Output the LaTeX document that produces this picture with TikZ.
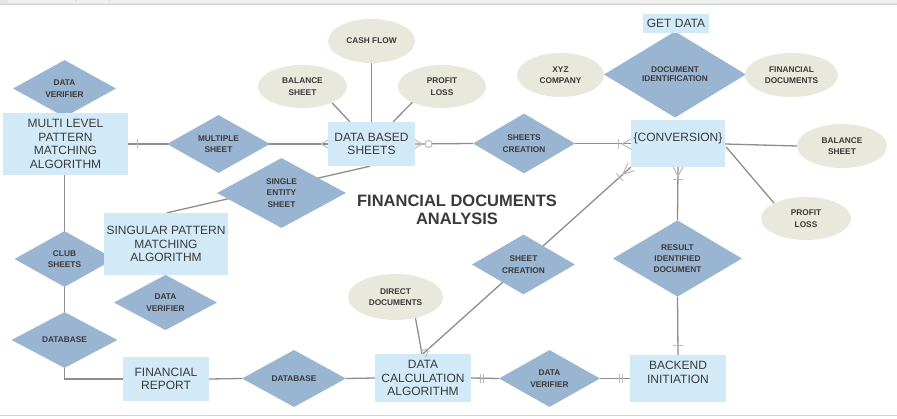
\documentclass[tikz,border=0pt]{standalone}
\usepackage{fontspec}
\setmainfont{Liberation Sans}
\usetikzlibrary{shapes.geometric,calc,backgrounds}
\definecolor{rectc}{HTML}{D2E9F7}
\definecolor{diac}{HTML}{9AB5D1}
\definecolor{ellc}{HTML}{E8E8DC}
\definecolor{linec}{HTML}{8E8E8E}
\definecolor{markc}{HTML}{BABABA}
\definecolor{txt}{HTML}{3A3A3A}
\definecolor{chrome}{HTML}{E6E6E6}
\definecolor{tabc}{HTML}{F0F0F0}
\definecolor{edgec}{HTML}{D2D2D2}
\tikzset{
  smalltxt/.style={font=\fontsize{8.3}{11.3}\selectfont\bfseries, text=txt, align=center},
  bigtxt/.style={font=\fontsize{12}{13.7}\selectfont, text=txt, align=center},
  box/.style 2 args={rectangle, fill=rectc, draw=none, minimum width=#1, minimum height=#2, inner sep=0pt, bigtxt},
  dia/.style 2 args={diamond, fill=diac, draw=none, minimum width=#1, minimum height=#2, inner sep=0pt, smalltxt},
  ell/.style 2 args={ellipse, fill=ellc, draw=none, minimum width=#1, minimum height=#2, inner sep=0pt, smalltxt},
  conn/.style={draw=linec, line width=1.3pt},
  marker/.style={draw=markc, line width=1pt},
}
\begin{document}
\begin{tikzpicture}[x=1pt,y=-1pt]
\useasboundingbox (0,0) rectangle (897,419);

% diamonds
\node[dia={103}{57}] (dv1) at (64.5,88.5) {DATA\\VERIFIER};
\node[dia={103}{56}] (ms) at (218.5,144) {MULTIPLE\\SHEET};
\node[dia={102}{57}] (sc) at (524,143.5) {SHEETS\\CREATION};
\node[dia={142}{85}] (di) at (675,74.5) {\raisebox{4pt}{\begin{tabular}{@{}c@{}}DOCUMENT\\[-2.2pt]IDENTIFICATION\end{tabular}}};
\node[dia={129}{71}] (rid) at (677.5,258.5) {RESULT\\IDENTIFIED\\DOCUMENT};
\node[dia={101}{57}] (dv3) at (549.5,378.5) {DATA\\VERIFIER};
\node[dia={103}{57}] (shc) at (523.5,264.5) {SHEET\\CREATION};
\node[dia={104}{57}] (db2) at (294,378.5) {DATABASE};
\node[dia={106}{56}] (db1) at (64.5,340) {DATABASE};
\node[dia={100}{56}] (cs) at (64.5,259) {CLUB\\SHEETS};
\node[dia={103}{55}] (dv2) at (165.5,302.5) {DATA\\VERIFIER};
\node[dia={129}{70}] (ses) at (281.5,193) {SINGLE\\ENTITY\\SHEET};

% rectangles
\node[box={125}{62}] (mlp) at (65.5,144) {MULTI LEVEL\\PATTERN\\MATCHING\\ALGORITHM};
\node[box={87}{44}] (dbs) at (371.5,144) {DATA BASED\\SHEETS};
\node[box={94}{47}, label={[bigtxt, anchor=north, yshift=-9pt]north:\{CONVERSION\}}] (conv) at (678,143.5) {};
\node[box={66}{19}] (gd) at (676,23.5) {GET DATA};
\node[box={96}{47}, label={[bigtxt, anchor=north, yshift=-3pt]north:{BACKEND\\INITIATION}}] (bi) at (678,378.5) {};
\node[box={96}{48}] (dca) at (423,378) {DATA\\CALCULATION\\ALGORITHM};
\node[box={86}{44}] (fr) at (166,379) {FINANCIAL\\REPORT};
\node[box={124}{62}] (spm) at (166,244) {SINGULAR PATTERN\\MATCHING\\ALGORITHM};

% ellipses
\node[ell={87}{44}] (cf) at (371.5,41) {CASH FLOW};
\node[ell={89}{43}] (bs1) at (302.5,86.5) {BALANCE\\SHEET};
\node[ell={88}{43}] (pl1) at (442,86.5) {PROFIT\\LOSS};
\node[ell={87}{44}] (xyz) at (560.5,75) {XYZ\\COMPANY};
\node[ell={93}{44}] (fd) at (791.5,75) {FINANCIAL\\DOCUMENTS};
\node[ell={90}{44}] (bs2) at (842,146) {BALANCE\\SHEET};
\node[ell={90}{43}] (pl2) at (806,218.5) {PROFIT\\LOSS};
\node[ell={95}{46}] (dd) at (395.5,297) {DIRECT\\DOCUMENTS};

% title
\node[font=\fontsize{16.5}{18}\selectfont\bfseries, text=txt, align=center] (title) at (457,210) {FINANCIAL DOCUMENTS\\ANALYSIS};

\begin{scope}[on background layer]
  \fill[white] (0,0) rectangle (897,419);
  % window chrome
  \fill[chrome] (0,0) rectangle (897,4.5);
  \fill[tabc] (8,0) rectangle (75,3);
  \fill[tabc] (77,0) rectangle (108,3);
  \fill[tabc] (110,0) rectangle (897,3);
  \draw[edgec, line width=1pt] (0,4.5) -- (897,4.5);
  \draw[edgec, line width=1pt] (0,415.5) -- (897,415.5);
  % connectors
  \draw[conn] (mlp.east) -- (dbs.west);
  \draw[conn] (dbs.east) -- (sc.west);
  \draw[conn] (sc.east) -- (conv.west);
  \draw[conn] ($(conv.east)+(0,0.5)$) -- (bs2.west);
  \draw[conn] ($(conv.east)+(1,3.5)$) -- (pl2.north west);
  \draw[conn] (conv.south) -- (rid.north);
  \draw[conn] (rid.south) -- (bi.north);
  \draw[conn] (dv3.east) -- (bi.west);
  \draw[conn] (dca.east) -- (dv3.west);
  \draw[conn] (db2.east) -- (dca.west);
  \draw[conn] (fr.east) -- (db2.west);
  \draw[conn] (db1.south) |- (fr.west);
  \draw[conn] (cs.south) -- (db1.north);
  \draw[conn] (cs.north |- mlp.south) -- (cs.north);
  \draw[conn] ($(spm.north)+(1,0)$) -- ($(dbs.south)+(-1.5,0)$);
  \draw[conn] (dca.north) -- (conv.south west);
  \draw[conn] (dd.south) ++(20,-2) coordinate (ddf) -- ($(dca.north)+(-1,0)$);
  \draw[conn] (bs1.south east) ++(-2,1) coordinate (bsf) -- ($(dbs.north west)+(22,0)$);
  \draw[conn] (cf.south) -- (dbs.north);
  \draw[conn] (pl1.south west) ++(4,-2) coordinate (plf) -- ($(dbs.north east)+(-22,0)$);
\end{scope}

% cardinality markers
\draw[marker] (137,139.5) -- (137,148.5);
\draw[marker] (328,140) -- (321,144) -- (328,148);
\draw[marker] (415,140) -- (422,144) -- (415,148);
\draw[marker, fill=white] (428.5,144) circle (3.5);
\draw[marker] (618,139) -- (618,149);
\draw[marker] (631,139) -- (622,144) -- (631,149);
\draw[marker] (673,167) -- (678,176) -- (683,167);
\draw[marker] (673,180) -- (683,180);
\draw[marker] (673,346) -- (683,346);
\draw[marker] (619,374.5) -- (619,383.5);
\draw[marker] (622,374.5) -- (622,383.5);
\draw[marker] (480,374.5) -- (480,383.5);
\draw[marker] (483,374.5) -- (483,383.5);
\draw[marker] (634.3,170.7) -- (622.8,174.4) -- (627.7,163.3);
\draw[marker] (623.1,180.7) -- (616.5,173.3);
\draw[marker] (425.7,357.0) -- (428.9,348.7) -- (420.3,351.0);
\end{tikzpicture}
\end{document}
